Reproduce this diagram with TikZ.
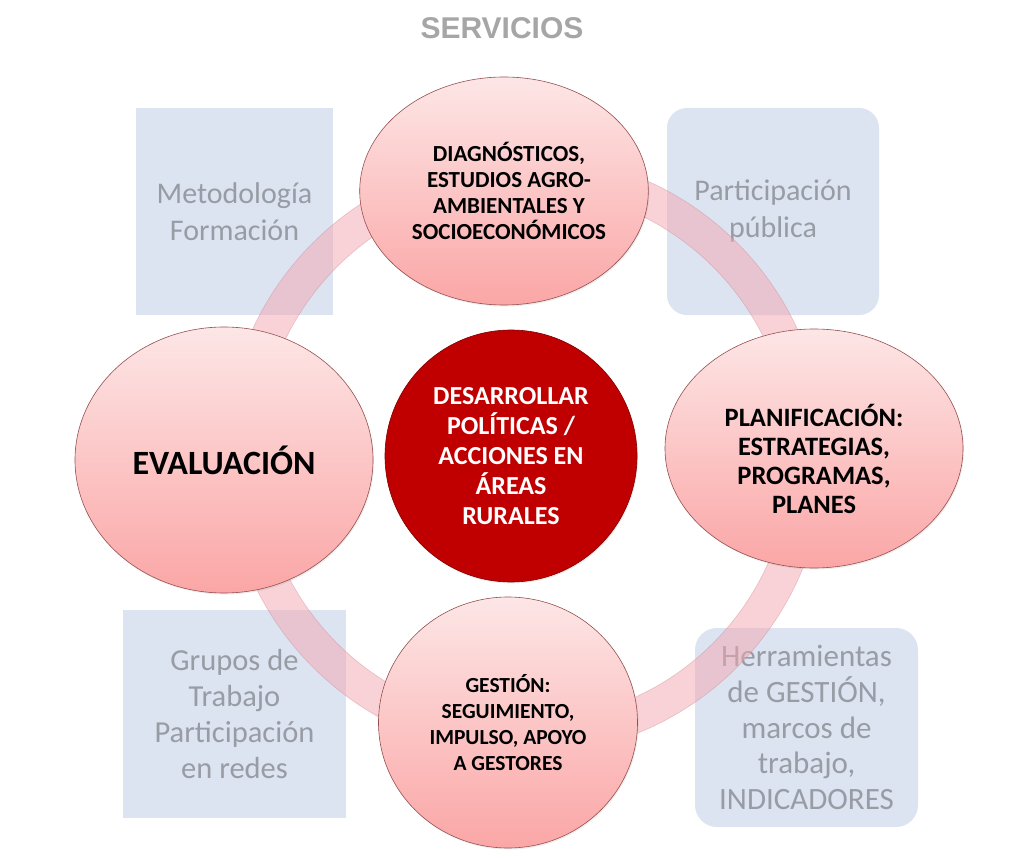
\documentclass[tikz,border=0pt]{standalone}
\usepackage{fontspec}
\setmainfont{Carlito}
\newfontfamily\titlefont{Liberation Sans}
\usetikzlibrary{shapes.geometric,shadows}
\definecolor{boxblue}{RGB}{220,228,241}
\definecolor{boxtext}{RGB}{152,156,164}
\definecolor{ringpink}{RGB}{243,166,174}
\definecolor{ringedge}{RGB}{200,120,130}
\definecolor{elltop}{RGB}{253,230,230}
\definecolor{ellbot}{RGB}{251,166,166}
\definecolor{ellborder}{RGB}{150,80,80}
\definecolor{corered}{RGB}{192,0,0}
\definecolor{coreborder}{RGB}{130,0,0}
\definecolor{titlegray}{RGB}{166,166,166}
\begin{document}
\begin{tikzpicture}[x=1pt,y=-1pt,
  bluebox/.style={rectangle, fill=boxblue, draw=none, inner sep=0pt, align=center,
    text=boxtext, font=\fontsize{30}{37}\selectfont},
  stage/.style={ellipse, draw=ellborder, line width=0.6pt, top color=elltop,
    bottom color=ellbot, inner sep=0pt, align=center,
    drop shadow={opacity=0.15, shadow xshift=1pt, shadow yshift=-1.5pt}},
  stagetext/.style={align=center, inner sep=0pt, font=\bfseries\fontsize{21.5}{26}\selectfont},
  core/.style={circle, draw=coreborder, line width=0.6pt, fill=corered, inner sep=0pt,
    align=center, text=white, font=\bfseries\fontsize{26}{30}\selectfont,
    drop shadow={opacity=0.15, shadow xshift=1pt, shadow yshift=-1.5pt}},
  ringband/.style={fill=ringpink, fill opacity=0.5, draw=ringedge, draw opacity=0.35,
    line width=0.6pt, even odd rule}
]
\useasboundingbox (0,0) rectangle (1024,858);
\fill[white] (0,0) rectangle (1024,858);

% title
\node[font=\titlefont\bfseries\fontsize{30}{36}\selectfont, text=titlegray] (title) at (502,28) {SERVICIOS};

% background boxes
\node[bluebox, minimum width=197pt, minimum height=207pt] (metod) at (234.5,211.5) {Metodología\\Formación};
\node[bluebox, minimum width=212pt, minimum height=207pt, rounded corners=20pt] (partic) at (773,211.5) {Participación\\pública};
\node[bluebox, minimum width=223pt, minimum height=208pt, font=\fontsize{30.5}{36}\selectfont] (grupos) at (234.5,714) {Grupos de\\Trabajo\\Participación\\en redes};
\node[bluebox, minimum width=223pt, minimum height=199pt, rounded corners=22pt, font=\fontsize{31}{35.7}\selectfont] (herram) at (806.5,727.5) {Herramientas\\de GESTIÓN,\\marcos de\\trabajo,\\INDICADORES};

% ring
\coordinate (ringc) at (525,455);
\path[ringband] (ringc) circle (300) (ringc) circle (266);

% stages
\node[stage, minimum width=288pt, minimum height=228pt, font=\bfseries\fontsize{23}{26}\selectfont] (diag) at (504,191) {\hspace*{10pt}DIAGNÓSTICOS,\\\hspace*{10pt}ESTUDIOS AGRO-\\\hspace*{10pt}AMBIENTALES Y\\\hspace*{10pt}SOCIOECONÓMICOS};
\node[stage, minimum width=298pt, minimum height=239pt] (plan) at (814,448.5) {};
\node[stagetext, font=\bfseries\fontsize{26.5}{29}\selectfont] (plantext) at (814,459) {PLANIFICACIÓN:\\ESTRATEGIAS,\\PROGRAMAS,\\PLANES};
\node[stage, minimum width=259pt, minimum height=251pt, font=\bfseries\fontsize{21.5}{25.7}\selectfont] (gestion) at (508,722.5) {GESTIÓN:\\SEGUIMIENTO,\\IMPULSO, APOYO\\A GESTORES};
\node[stage, minimum width=298pt, minimum height=266pt, font=\bfseries\fontsize{34}{38}\selectfont] (eval) at (224,460) {EVALUACIÓN};

% core
\node[core, minimum size=252pt] (core) at (511,456) {DESARROLLAR\\POLÍTICAS /\\ACCIONES EN\\ÁREAS\\RURALES};
\end{tikzpicture}
\end{document}
